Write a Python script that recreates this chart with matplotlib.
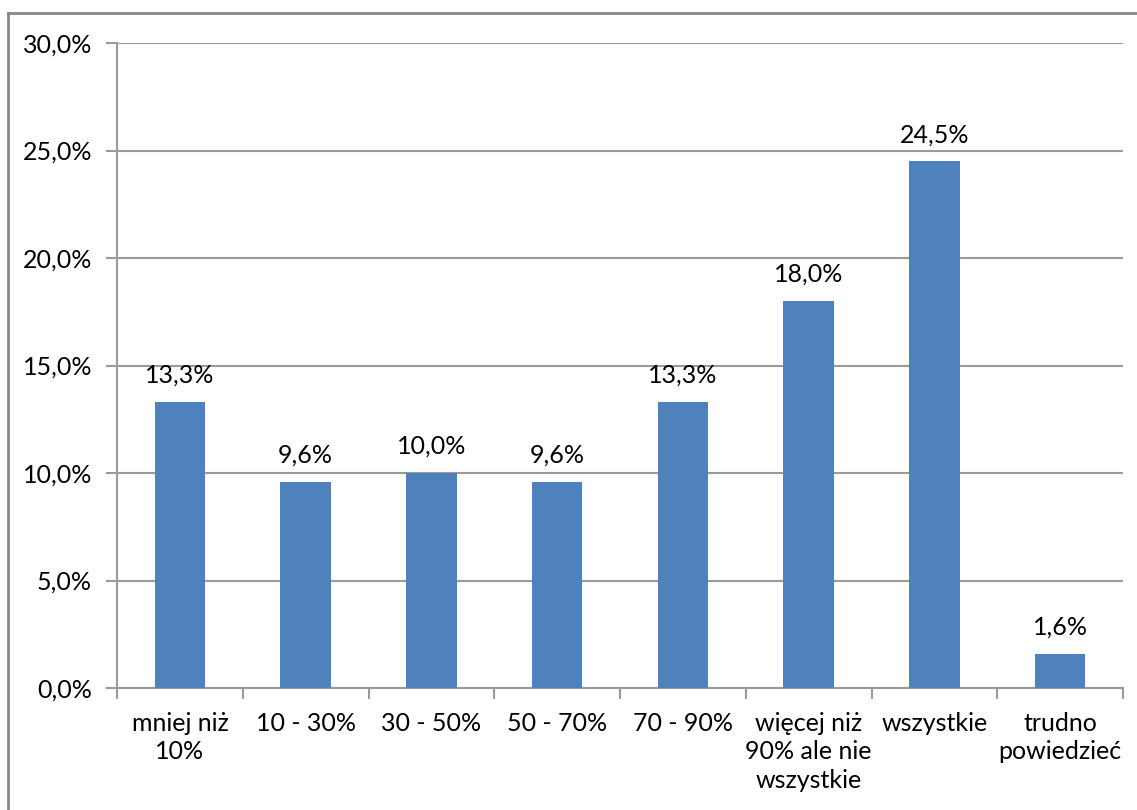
import numpy as np
import matplotlib.pyplot as plt
from matplotlib.lines import Line2D
from matplotlib.ticker import FuncFormatter

categories = ['mniej niż\n10%', '10 - 30%', '30 - 50%', '50 - 70%', '70 - 90%',
              'więcej niż\n90% ale nie\nwszystkie', 'wszystkie', 'trudno\npowiedzieć']
values = [13.3, 9.6, 10.0, 9.6, 13.3, 18.0, 24.5, 1.6]
y_ticks = [0, 5, 10, 15, 20, 25, 30]

plt.rcParams['font.family'] = ['Lato', 'DejaVu Sans']
fs = 18
grid_col = '#9a9a9a'

def pct(v, pos=None):
    return '{:.1f}%'.format(v).replace('.', ',')

fig = plt.figure(figsize=(11.37, 8.1), dpi=100)
ax = fig.add_axes([117 / 1137, 1 - 688 / 810, (1123 - 117) / 1137, (688 - 43) / 810])

x = np.arange(len(categories))
ax.bar(x, values, width=0.4, color='#4f81bd', zorder=3)

for xi, v in zip(x, values):
    ax.text(xi, v + 0.7, pct(v), ha='center', va='bottom', fontsize=fs, color='black')

ax.set_xlim(-0.5, len(categories) - 0.5)
ax.set_ylim(0, 30)
ax.set_yticks(y_ticks)
ax.yaxis.set_major_formatter(FuncFormatter(pct))
ax.grid(axis='y', color=grid_col, linewidth=1.5, zorder=0)

# category boundaries as tick marks, labels at centers
ax.set_xticks(np.arange(len(categories) + 1) - 0.5)
ax.set_xticklabels([])
ax.set_xticks(x, minor=True)
ax.set_xticklabels(categories, minor=True, fontsize=fs, linespacing=1.3)
ax.tick_params(axis='x', which='major', length=8, width=1.5, color=grid_col)
ax.tick_params(axis='x', which='minor', length=0, pad=17)
ax.tick_params(axis='y', length=8, width=1.5, color=grid_col, labelsize=fs, pad=10)

for side in ['top', 'right']:
    ax.spines[side].set_visible(False)
for side in ['left', 'bottom']:
    ax.spines[side].set_color(grid_col)
    ax.spines[side].set_linewidth(1.5)

# chart area frame
fig.add_artist(Line2D([8 / 1137, 8 / 1137], [0, 1 - 13 / 810], transform=fig.transFigure,
                      color='#868686', linewidth=2))
fig.add_artist(Line2D([8 / 1137, 1], [1 - 13 / 810, 1 - 13 / 810], transform=fig.transFigure,
                      color='#868686', linewidth=2))

fig.savefig('out.png', dpi=100)
